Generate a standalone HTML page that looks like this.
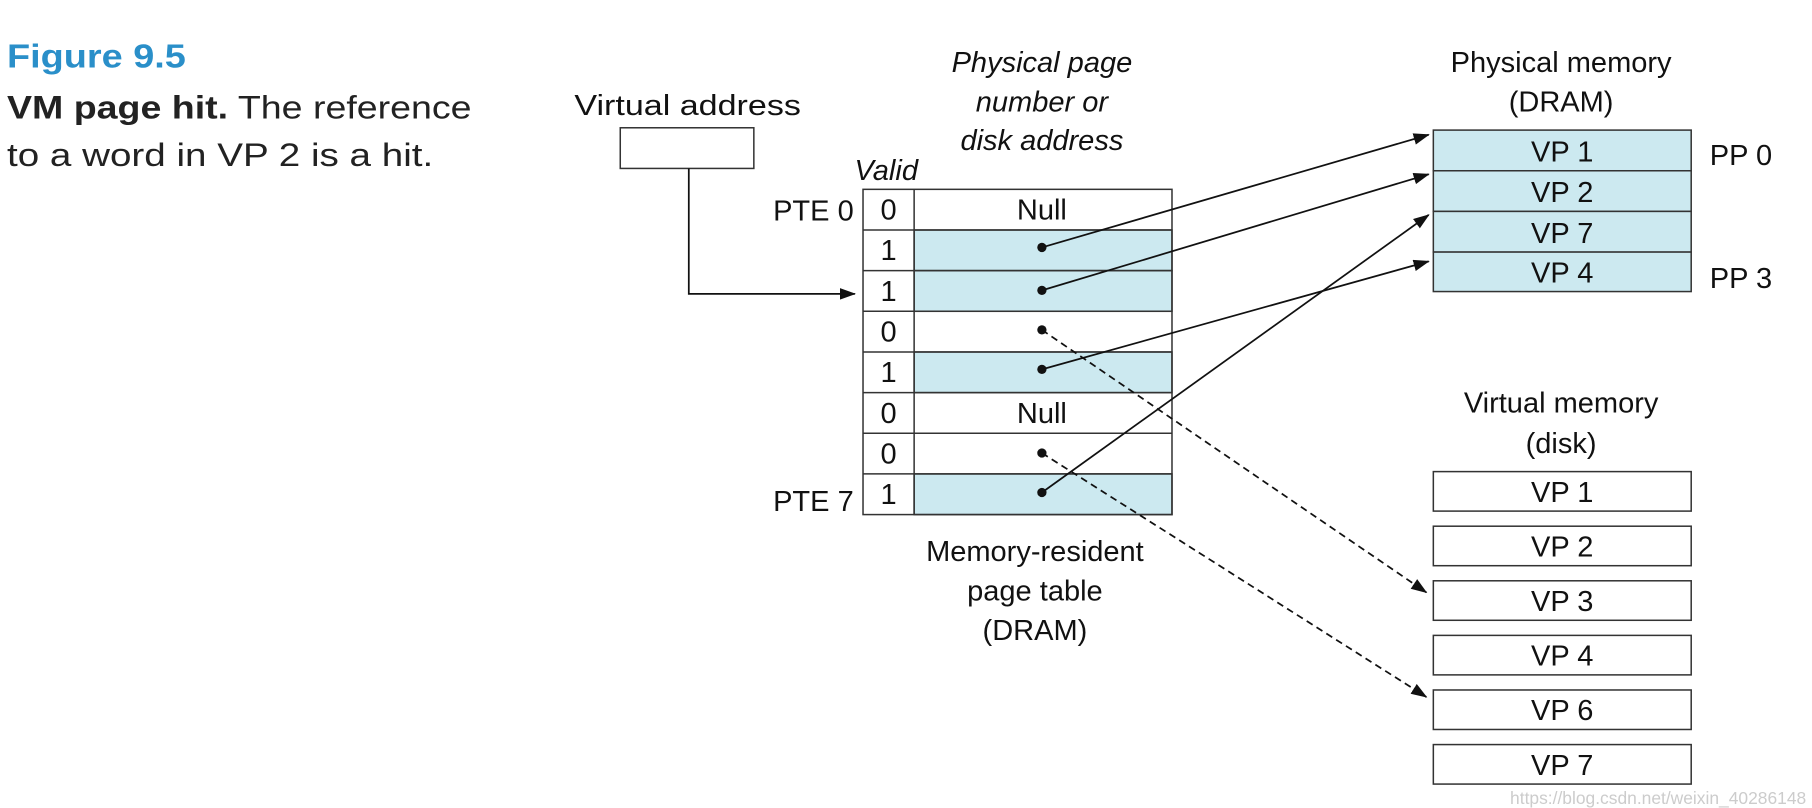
<!DOCTYPE html>
<html><head><meta charset="utf-8"><style>html,body{margin:0;padding:0;background:#fff}svg{display:block}</style></head>
<body>
<svg width="1812" height="808" viewBox="0 0 1560 695.6" preserveAspectRatio="none" xmlns="http://www.w3.org/2000/svg" font-family="Liberation Sans, sans-serif">
<defs>
<marker id="ah" markerWidth="14" markerHeight="10" refX="13" refY="5" orient="auto" markerUnits="userSpaceOnUse"><path d="M0,0 L14,5 L0,10 Z" fill="#111"/></marker>
</defs>
<text x="6" y="58" font-size="29" font-weight="bold" fill="#2a8fc9" textLength="154" lengthAdjust="spacingAndGlyphs">Figure 9.5</text>
<text x="6" y="102" font-size="28" fill="#222" textLength="400" lengthAdjust="spacingAndGlyphs"><tspan font-weight="bold">VM page hit.</tspan> The reference</text>
<text x="6" y="143" font-size="28" fill="#222" textLength="367" lengthAdjust="spacingAndGlyphs">to a word in VP 2 is a hit.</text>

<g font-size="25" fill="#111" text-anchor="middle">
<text x="592" y="99" textLength="195" lengthAdjust="spacingAndGlyphs">Virtual address</text>
<g font-style="italic">
<text x="897" y="62">Physical page</text>
<text x="897" y="96">number or</text>
<text x="897" y="129">disk address</text>
<text x="763" y="155">Valid</text>
</g>
<text x="1344" y="62">Physical memory</text>
<text x="1344" y="96">(DRAM)</text>
<text x="1344" y="355">Virtual memory</text>
<text x="1344" y="390">(disk)</text>
<text x="891" y="483">Memory-resident</text>
<text x="891" y="517">page table</text>
<text x="891" y="551">(DRAM)</text>
</g>

<rect x="534" y="110" width="115" height="35" fill="#fff" stroke="#333" stroke-width="1.3"/>
<polyline points="593,145 593,253 736,253" fill="none" stroke="#111" stroke-width="1.5" marker-end="url(#ah)"/>

<g stroke="#333" stroke-width="1.3">
<rect x="787" y="198" width="222" height="35" fill="#cce9f0"/>
<rect x="787" y="233" width="222" height="35" fill="#cce9f0"/>
<rect x="787" y="303" width="222" height="35" fill="#cce9f0"/>
<rect x="787" y="408" width="222" height="35" fill="#cce9f0"/>
<rect x="743" y="163" width="266" height="280" fill="none"/>
<line x1="787" y1="163" x2="787" y2="443"/>
<line x1="743" y1="198" x2="1009" y2="198"/>
<line x1="743" y1="233" x2="1009" y2="233"/>
<line x1="743" y1="268" x2="1009" y2="268"/>
<line x1="743" y1="303" x2="1009" y2="303"/>
<line x1="743" y1="338" x2="1009" y2="338"/>
<line x1="743" y1="373" x2="1009" y2="373"/>
<line x1="743" y1="408" x2="1009" y2="408"/>
</g>
<g font-size="25" fill="#111" text-anchor="middle">
<text x="765" y="189">0</text><text x="765" y="224">1</text><text x="765" y="259">1</text><text x="765" y="294">0</text>
<text x="765" y="329">1</text><text x="765" y="364">0</text><text x="765" y="399">0</text><text x="765" y="434">1</text>
<text x="897" y="189">Null</text><text x="897" y="364">Null</text>
</g>
<g font-size="25" fill="#111" text-anchor="end">
<text x="735" y="190">PTE 0</text><text x="735" y="440">PTE 7</text>
</g>

<g stroke="#333" stroke-width="1.3" fill="#cce9f0">
<rect x="1234" y="112" width="222" height="35"/>
<rect x="1234" y="147" width="222" height="35"/>
<rect x="1234" y="182" width="222" height="35"/>
<rect x="1234" y="217" width="222" height="34"/>
</g>
<g font-size="25" fill="#111" text-anchor="middle">
<text x="1345" y="139">VP 1</text><text x="1345" y="174">VP 2</text><text x="1345" y="209">VP 7</text><text x="1345" y="243">VP 4</text>
</g>
<text x="1472" y="142" font-size="25" fill="#111">PP 0</text>
<text x="1472" y="248" font-size="25" fill="#111">PP 3</text>

<g stroke="#333" stroke-width="1.3" fill="#fff">
<rect x="1234" y="406" width="222" height="34"/>
<rect x="1234" y="453" width="222" height="34"/>
<rect x="1234" y="500" width="222" height="34"/>
<rect x="1234" y="547" width="222" height="34"/>
<rect x="1234" y="594" width="222" height="34"/>
<rect x="1234" y="641" width="222" height="34"/>
</g>
<g font-size="25" fill="#111" text-anchor="middle">
<text x="1345" y="432">VP 1</text><text x="1345" y="479">VP 2</text><text x="1345" y="526">VP 3</text>
<text x="1345" y="573">VP 4</text><text x="1345" y="620">VP 6</text><text x="1345" y="667">VP 7</text>
</g>

<g stroke="#111" stroke-width="1.5" fill="none">
<line x1="897" y1="213" x2="1230" y2="116" marker-end="url(#ah)"/>
<line x1="897" y1="250" x2="1230" y2="150" marker-end="url(#ah)"/>
<line x1="897" y1="318" x2="1230" y2="225" marker-end="url(#ah)"/>
<line x1="897" y1="424" x2="1230" y2="185" marker-end="url(#ah)"/>
<line x1="897" y1="284" x2="1228" y2="510" stroke-dasharray="6,4" marker-end="url(#ah)"/>
<line x1="897" y1="390" x2="1228" y2="600" stroke-dasharray="6,4" marker-end="url(#ah)"/>
</g>
<g fill="#111">
<circle cx="897" cy="213" r="4"/><circle cx="897" cy="250" r="4"/><circle cx="897" cy="284" r="4"/>
<circle cx="897" cy="318" r="4"/><circle cx="897" cy="390" r="4"/><circle cx="897" cy="424" r="4"/>
</g>
<text x="1555" y="692" font-size="15" fill="#ccc" text-anchor="end">https://blog.csdn.net/weixin_40286148</text>
</svg>
</body></html>
